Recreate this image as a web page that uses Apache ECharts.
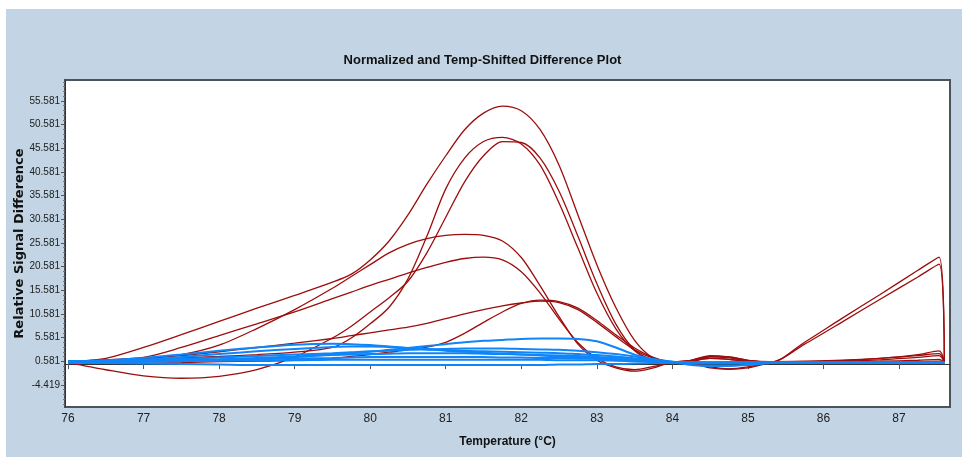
<!DOCTYPE html>
<html>
<head>
<meta charset="utf-8">
<script src="https://cdn.jsdelivr.net/npm/echarts@6/dist/echarts.min.js"></script>
<style>
html,body{margin:0;padding:0;background:#fff;}
#chart{width:965px;height:457px;}
</style>
</head>
<body>
<div id="chart"></div>
<script>
// ---- data ----
const titleText = 'Normalized and Temp-Shifted Difference Plot';
const xName = 'Temperature (°C)';
const yName = 'Relative Signal Difference';
const xTicks = [76, 77, 78, 79, 80, 81, 82, 83, 84, 85, 86, 87];
const yTicks = [-4.419, 0.581, 5.581, 10.581, 15.581, 20.581, 25.581, 30.581, 35.581, 40.581, 45.581, 50.581, 55.581];

const temps = [76, 76.5, 77, 77.5, 78, 78.5, 79, 79.5, 79.75, 80, 80.25, 80.5, 80.75, 81, 81.25, 81.5, 81.75, 82, 82.25, 82.5, 82.75, 83, 83.25, 83.5, 83.75, 84, 84.25, 84.5, 84.75, 85, 85.3, 85.75, 86.25, 86.75, 87.25, 87.53, 87.6];

// red (positive) samples
const red1 = [0.5, 1.2, 3.5, 6.2, 9, 11.8, 14.5, 17.3, 19, 22, 26, 31.5, 38, 44, 49.5, 53, 54.5, 53.5, 49.5, 42, 31.5, 21, 12, 5, 1.2, 0.2, 0.8, 1.8, 1.5, 0.8, 0.5, 0.6, 0.8, 1.2, 1.8, 2.2, 0.5];
const red2 = [0.5, 0.7, 1.0, 1.3, 1.6, 2.0, 2.5, 3.5, 5.5, 8.5, 12, 18, 27, 37, 43.5, 47, 47.9, 46.5, 42, 34, 24.5, 15, 7.5, 2.8, 0.7, 0.4, 0.6, 1.2, 1.0, 0.5, 0.4, 4.6, 9.7, 14.7, 19.8, 22.6, 0.4];
const red3 = [0.3, -1.2, -2.5, -3, -2.6, -1.2, 1.5, 5.5, 8, 11, 14, 17.5, 23.5, 31, 38.5, 44, 47, 46.8, 43.5, 36.5, 27, 17, 8.5, 3, 0.8, 0.4, 0.5, 1.5, 1.3, 0.7, 0.4, 0.5, 0.6, 0.9, 1.4, 1.8, 0.4];
const red4 = [0.6, 0.8, 1.2, 2, 4, 7.5, 11.5, 16, 18.5, 21, 23.5, 25.3, 26.5, 27.2, 27.4, 27.2, 26, 22.5, 16.5, 10, 4.2, 0.8, -0.8, -1.5, -0.8, 0.3, 0.2, -0.6, -1, -0.6, 0.3, 0.5, 0.5, 0.5, 0.5, 0.6, 0.4];
const red5 = [0.5, 0.9, 1.4, 3.5, 6, 8.5, 11, 13.8, 15.2, 16.6, 17.9, 19.2, 20.4, 21.5, 22.3, 22.6, 22, 19.5, 15, 9.5, 4.5, 1.2, -0.6, -1.2, -0.5, 0.4, 0.8, 1.2, 1, 0.6, 0.4, 0.5, 0.7, 1.2, 2, 2.8, 0.5];
const red6 = [0.5, 0.8, 1.2, 1.8, 2.6, 3.5, 4.4, 5.4, 6, 6.6, 7.2, 7.8, 8.6, 9.6, 10.6, 11.5, 12.3, 12.9, 13.3, 13, 11.5, 8.8, 5.8, 3, 1.2, 0.4, 0.2, -0.8, -1.1, -0.8, 0.2, 0.5, 0.5, 0.6, 0.8, 1.0, 0.4];
const red7 = [0.6, 0.3, 0.2, 0.3, 0.5, 0.6, 0.8, 1.2, 1.6, 2.0, 2.5, 3.0, 3.6, 4.6, 6.5, 8.8, 11, 12.8, 13.5, 13.2, 11.8, 9.2, 6.2, 3.4, 1.4, 0.4, 0.8, 1.6, 1.5, 0.8, 0.4, 4.2, 8.9, 13.7, 18.4, 21.1, 0.3];

// blue (negative) samples
const blue1 = [0.4, 0.4, 0.5, 0.6, 0.8, 1.1, 1.5, 2.0, 2.3, 2.6, 3.0, 3.4, 3.8, 4.2, 4.6, 4.9, 5.1, 5.3, 5.4, 5.4, 5.3, 4.8, 3.5, 2.0, 1.0, 0.5, 0.4, 0.3, 0.3, 0.3, 0.3, 0.3, 0.3, 0.3, 0.3, 0.3, 0.3];
const blue2 = [0.5, 0.8, 1.3, 2.0, 2.8, 3.5, 4.1, 4.3, 4.2, 4.0, 3.7, 3.4, 3.1, 2.8, 2.6, 2.4, 2.2, 2.0, 1.8, 1.6, 1.4, 1.2, 1.0, 0.8, 0.6, 0.4, 0.2, 0.1, 0.1, 0.2, 0.2, 0.2, 0.2, 0.2, 0.2, 0.2, 0.2];
const blue3 = [0.3, 0.5, 0.9, 1.5, 2.1, 2.7, 3.2, 3.6, 3.7, 3.7, 3.6, 3.4, 3.2, 3.0, 2.8, 2.7, 2.6, 2.5, 2.4, 2.3, 2.1, 1.9, 1.6, 1.2, 0.8, 0.4, 0.3, 0.3, 0.4, 0.4, 0.3, 0.3, 0.3, 0.3, 0.3, 0.3, 0.3];
const blue4 = [0.6, 0.7, 0.9, 1.1, 1.4, 1.7, 2.0, 2.3, 2.5, 2.7, 2.8, 3.0, 3.1, 3.2, 3.3, 3.3, 3.3, 3.2, 3.1, 3.0, 2.8, 2.5, 2.1, 1.6, 1.0, 0.5, 0.4, 0.4, 0.4, 0.4, 0.4, 0.4, 0.4, 0.4, 0.4, 0.4, 0.4];
const blue5 = [0.4, 0.5, 0.6, 0.8, 1.0, 1.3, 1.6, 1.9, 2.0, 2.1, 2.2, 2.3, 2.3, 2.3, 2.3, 2.2, 2.1, 2.0, 1.9, 1.8, 1.7, 1.5, 1.3, 1.0, 0.7, 0.4, -0.2, -0.4, -0.4, -0.2, 0.2, 0.3, 0.3, 0.3, 0.3, 0.3, 0.3];
const blue6 = [0.5, 0.6, 0.7, 0.8, 0.9, 1.0, 1.2, 1.3, 1.4, 1.5, 1.5, 1.5, 1.5, 1.5, 1.5, 1.5, 1.4, 1.4, 1.3, 1.3, 1.2, 1.1, 1.0, 0.8, 0.6, 0.4, 0.3, 0.3, 0.3, 0.3, 0.3, 0.3, 0.3, 0.3, 0.3, 0.3, 0.3];
const blue7 = [0.6, 0.6, 0.6, 0.7, 0.7, 0.8, 0.8, 0.9, 0.9, 0.9, 0.9, 0.9, 0.9, 0.9, 0.9, 0.9, 0.9, 0.9, 0.9, 0.8, 0.8, 0.8, 0.7, 0.6, 0.5, 0.4, 0.3, 0.3, 0.3, 0.3, 0.3, 0.3, 0.3, 0.3, 0.3, 0.3, 0.3];
const blue8 = [0.3, 0.2, 0.1, 0.0, -0.1, -0.2, -0.2, -0.2, -0.2, -0.2, -0.2, -0.2, -0.2, -0.2, -0.2, -0.2, -0.2, -0.2, -0.2, -0.1, -0.1, 0.0, 0.0, 0.1, 0.2, 0.3, 0.2, 0.2, 0.2, 0.2, 0.2, 0.2, 0.2, 0.2, 0.2, 0.2, 0.2];

const redSeries = [red1, red2, red3, red4, red5, red6, red7];
const blueSeries = [blue1, blue2, blue3, blue4, blue5, blue6, blue7, blue8];

// ---- chart ----
const sans = "'Liberation Sans', Arial, sans-serif";
const yMinor = [];
for (let k = -9; k <= 60; k++) {
  const v = +(yTicks[0] + (k + 4)).toFixed(3);
  if (v > -9.07 && v < 60 && !yTicks.some(t => Math.abs(t - v) < 1e-6)) yMinor.push(v);
}

function mk(arr, color, width, name) {
  return {
    type: 'line', name: name,
    data: temps.map((t, i) => [t, arr[i]]),
    showSymbol: false, symbol: 'none',
    smooth: 0.3,
    lineStyle: { color: color, width: width },
    emphasis: { disabled: true },
    silent: true
  };
}

const series = [];
redSeries.forEach((a, i) => series.push(mk(a, '#9c0d0d', 1.3, 'red' + (i + 1))));
blueSeries.forEach((a, i) => series.push(mk(a, '#0f85f8', 2, 'blue' + (i + 1))));

const chart = echarts.init(document.getElementById('chart'), null, { renderer: 'canvas' });
chart.setOption({
  animation: false,
  backgroundColor: '#c3d5e5',
  graphic: [
    { type: 'rect', shape: { x: 0, y: 0, width: 965, height: 9 }, style: { fill: '#ffffff' }, silent: true },
    { type: 'rect', shape: { x: 0, y: 0, width: 6, height: 457 }, style: { fill: '#ffffff' }, silent: true },
    { type: 'rect', shape: { x: 962, y: 0, width: 3, height: 457 }, style: { fill: '#ffffff' }, silent: true }
  ],
  title: {
    text: titleText, left: 'center', top: 49,
    textStyle: { fontFamily: sans, fontWeight: 'bold', fontSize: 13, color: '#111' }
  },
  grid: {
    left: 65, right: 15, top: 80, bottom: 50,
    outerBoundsMode: 'none', containLabel: false,
    show: true, backgroundColor: '#ffffff', borderColor: '#4d535b', borderWidth: 2
  },
  xAxis: {
    type: 'value', min: 75.96, max: 87.675,
    name: xName, nameLocation: 'middle', nameGap: 29, nameMoveOverlap: false,
    nameTextStyle: { fontFamily: sans, fontWeight: 'bold', fontSize: 12, color: '#111' },
    axisLine: { show: true, lineStyle: { color: '#333', width: 1 } },
    axisTick: { show: true, customValues: xTicks, length: 5, lineStyle: { color: '#555' } },
    axisLabel: { customValues: xTicks, margin: 6, fontFamily: sans, fontSize: 12, color: '#222' },
    splitLine: { show: false }
  },
  yAxis: [{
    type: 'value', min: -9.07, max: 60.0,
    name: yName, nameLocation: 'middle', nameGap: 39, nameRotate: 90, nameMoveOverlap: false,
    nameTextStyle: { fontFamily: "'DejaVu Sans', sans-serif", fontWeight: 'bold', fontSize: 13, color: '#111' },
    axisLine: { show: true, lineStyle: { color: '#333', width: 1 } },
    axisTick: { show: true, customValues: yTicks, length: 4, lineStyle: { color: '#555' } },
    axisLabel: { customValues: yTicks, margin: 5, fontFamily: sans, fontSize: 10, color: '#222',
      formatter: v => Number(v).toFixed(3) },
    splitLine: { show: false }
  }, {
    type: 'value', min: -9.07, max: 60.0, position: 'left',
    axisLine: { show: false },
    axisTick: { show: true, customValues: yMinor, length: 2, lineStyle: { color: '#777' } },
    axisLabel: { show: false },
    splitLine: { show: false }
  }],
  series: series
});
</script>
</body>
</html>
